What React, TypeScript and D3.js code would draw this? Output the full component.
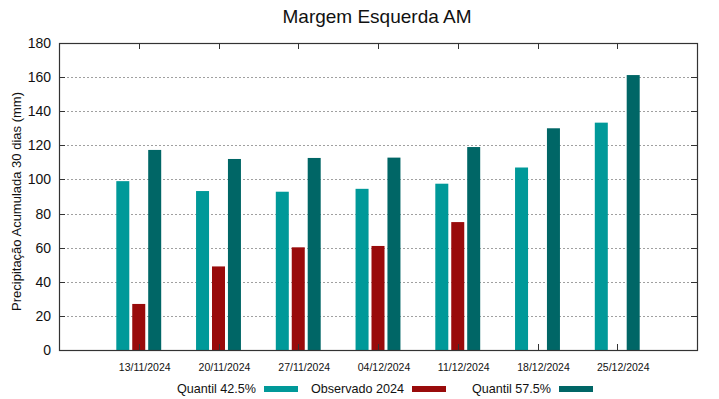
import React, { useEffect, useRef } from 'react';
import * as d3 from 'd3';

// chart data
const categories = ['13/11/2024', '20/11/2024', '27/11/2024', '04/12/2024', '11/12/2024', '18/12/2024', '25/12/2024'];
const quantil425 = [99, 93.2, 92.8, 94.5, 97.5, 107, 133.3];
const observado2024: (number | null)[] = [27, 49, 60.2, 61, 75, null, null];
const quantil575 = [117.3, 112, 112.6, 112.8, 119, 130, 161.2];
const yTicks = [0, 20, 40, 60, 80, 100, 120, 140, 160, 180];

const seriesNames = ['Quantil 42.5%', 'Observado 2024', 'Quantil 57.5%'];
const seriesColors = ['#009999', '#990b0b', '#006666'];

export default function App() {
  const ref = useRef<SVGSVGElement>(null);

  useEffect(() => {
    const width = 719;
    const height = 399;
    const margin = { top: 43, right: 22, bottom: 49, left: 59 };
    const font = '"Liberation Sans", Arial, sans-serif';

    const svg = d3.select(ref.current).attr('viewBox', [0, 0, width, height]);
    svg.selectAll('*').remove();

    // x scale: categories at 0..6, domain padded by one slot each side
    const x = d3
      .scaleLinear()
      .domain([-1, categories.length])
      .range([margin.left, width - margin.right]);

    const y = d3
      .scaleLinear()
      .domain([0, 180])
      .range([height - margin.bottom, margin.top]);

    const x0 = margin.left;
    const x1 = width - margin.right;
    const y0 = height - margin.bottom;
    const y1 = margin.top;

    // grid
    svg
      .append('g')
      .selectAll('line')
      .data(yTicks.slice(1, -1))
      .join('line')
      .attr('x1', x0)
      .attr('x2', x1)
      .attr('y1', (d) => Math.round(y(d)) + 0.5)
      .attr('y2', (d) => Math.round(y(d)) + 0.5)
      .attr('stroke', '#a0a0a0')
      .attr('stroke-width', 1)
      .attr('stroke-dasharray', '2,2');

    // bars
    const barW = 13 / (x(1) - x(0));
    const offsets = [-0.2, 0, 0.2];
    const allSeries = [quantil425, observado2024, quantil575];
    allSeries.forEach((vals, s) => {
      svg
        .append('g')
        .attr('fill', seriesColors[s])
        .selectAll('rect')
        .data(vals.map((v, i) => ({ v, i })).filter((d) => d.v != null))
        .join('rect')
        .attr('x', (d) => x(d.i + offsets[s] - barW / 2))
        .attr('width', x(barW) - x(0))
        .attr('y', (d) => y(d.v as number))
        .attr('height', (d) => y(0) - y(d.v as number));
    });

    // frame
    svg
      .append('rect')
      .attr('x', x0 + 0.5)
      .attr('y', y1 + 0.5)
      .attr('width', x1 - x0)
      .attr('height', y0 - y1)
      .attr('fill', 'none')
      .attr('stroke', '#333')
      .attr('stroke-width', 1.2);

    // y ticks both sides
    const tg = svg.append('g').attr('stroke', '#333');
    yTicks.slice(1, -1).forEach((t) => {
      const yy = Math.round(y(t)) + 0.5;
      tg.append('line').attr('x1', x0).attr('x2', x0 + 6).attr('y1', yy).attr('y2', yy);
      tg.append('line').attr('x1', x1 - 6).attr('x2', x1).attr('y1', yy).attr('y2', yy);
    });
    categories.forEach((c, i) => {
      const xx = Math.round(x(i)) + 0.5;
      tg.append('line').attr('x1', xx).attr('x2', xx).attr('y1', y0).attr('y2', y0 - 6);
      tg.append('line').attr('x1', xx).attr('x2', xx).attr('y1', y1).attr('y2', y1 + 6);
    });

    // y tick labels
    svg
      .append('g')
      .selectAll('text')
      .data(yTicks)
      .join('text')
      .attr('x', 51)
      .attr('y', (d) => y(d) + 5)
      .attr('text-anchor', 'end')
      .attr('font-family', font)
      .attr('font-size', 14)
      .attr('fill', '#111')
      .text((d) => d);

    // x tick labels
    svg
      .append('g')
      .selectAll('text')
      .data(categories)
      .join('text')
      .attr('x', (d, i) => x(i) + 6)
      .attr('y', 371)
      .attr('text-anchor', 'middle')
      .attr('font-family', font)
      .attr('font-size', 10.5)
      .attr('fill', '#111')
      .text((d) => d);

    // y axis title
    svg
      .append('text')
      .attr('transform', `translate(21,201.5) rotate(-90)`)
      .attr('text-anchor', 'middle')
      .attr('font-family', font)
      .attr('font-size', 13)
      .attr('fill', '#111')
      .text('Precipitação Acumulada 30 dias (mm)');

    // title
    svg
      .append('text')
      .attr('x', 377)
      .attr('y', 23)
      .attr('text-anchor', 'middle')
      .attr('font-family', font)
      .attr('font-size', 19)
      .attr('fill', '#111')
      .text('Margem Esquerda AM');

    // legend
    const legendSwatch = [264, 412, 559];
    seriesNames.forEach((n, s) => {
      svg
        .append('text')
        .attr('x', legendSwatch[s] - 8)
        .attr('y', 393)
        .attr('text-anchor', 'end')
        .attr('font-family', font)
        .attr('font-size', 12.6)
        .attr('fill', '#111')
        .text(n);
      svg
        .append('rect')
        .attr('x', legendSwatch[s])
        .attr('y', 386)
        .attr('width', 34)
        .attr('height', 6)
        .attr('fill', seriesColors[s]);
    });
  });

  return (
    <svg
      ref={ref}
      width={719}
      height={399}
      style={{ position: 'absolute', left: 0, top: 0, background: '#fff' }}
    />
  );
}
